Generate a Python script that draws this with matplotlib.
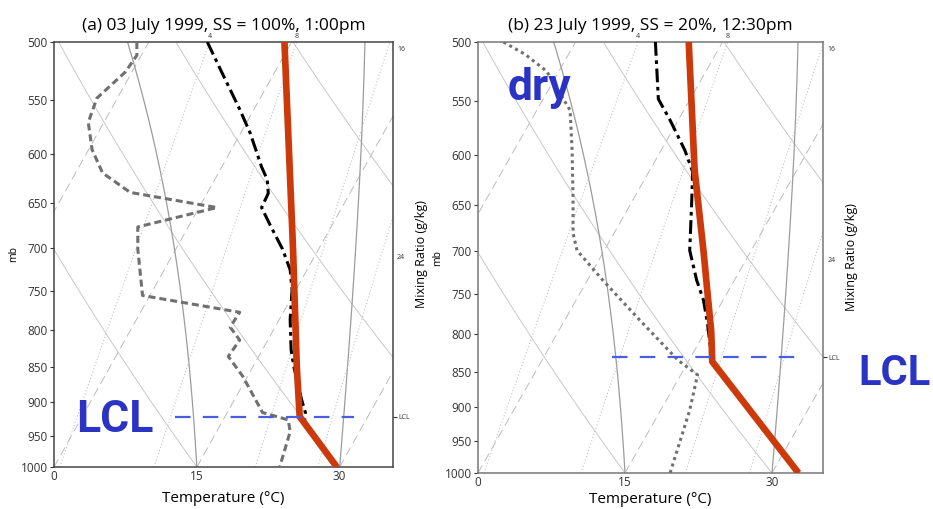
"""Skew-T soundings for two July 1999 afternoons (SS = 100% vs 20%)."""

import matplotlib.pyplot as plt
import matplotlib.transforms as mtransforms
import numpy as np
from matplotlib.ticker import NullLocator

plt.rcParams.update({"font.family": ["Open Sans", "DejaVu Sans"], "font.size": 8})

SKEW = 36.0  # degC of skew per ln(1000/p)
P_TICKS = [500, 550, 600, 650, 700, 750, 800, 850, 900, 950, 1000]
T_TICKS = [0, 15, 30]
ISOTHERMS = [-15, 0, 15, 30]
DRY_THETAS = [15, 30, 45, 60]
MOIST_THETAS = [15, 30]
MIX_TOP = [4, 8]
MIX_SIDE = [16, 24]
MIX_SIDE_P = [506, 710]  # where the side labels sit on the right spine

# values are positions on the skewed temperature axis
a_parcel_p = [500, 700, 850, 921, 1000]
a_parcel_x = [24.2, 25.1, 25.5, 25.8, 29.7]
a_temp_p = [500, 525, 558, 580, 613, 626, 640, 655, 674, 701, 725, 749, 786, 826,
            850, 896, 915, 930, 1000]
a_temp_x = [16.1, 17.6, 19.5, 20.6, 21.8, 22.4, 22.5, 21.8, 22.7, 24.0, 24.8, 25.0, 24.8,
            24.9, 25.2, 26.0, 26.4, 26.3, 29.7]
a_dew_p = [500, 511, 525, 548, 570, 596, 619, 639, 655, 676, 701, 756, 777, 796, 813,
           835, 862, 915, 926, 944, 1000]
a_dew_x = [8.7, 8.7, 7.5, 4.5, 3.6, 4.0, 5.1, 8.0, 17.1, 8.8, 8.8, 9.3, 19.5, 18.5, 19.5,
           18.3, 19.8, 21.9, 24.6, 24.8, 23.7]
a_lcl_p = 921
a_lcl_x = [12.7, 31.5]

b_parcel_p = [500, 614, 699, 797, 836, 1000]
b_parcel_x = [21.5, 22.1, 23.0, 23.8, 23.9, 32.7]
b_temp_p = [500, 548, 567, 595, 616, 648, 699, 733, 757, 785, 836, 1000]
b_temp_x = [18.1, 18.4, 19.6, 21.1, 21.9, 21.8, 21.6, 22.3, 23.0, 23.4, 23.9, 32.7]
b_dew_p = [500, 510, 524, 558, 595, 644, 680, 699, 733, 782, 834, 854, 904, 1000]
b_dew_x = [2.6, 4.8, 7.0, 9.4, 9.6, 9.7, 9.7, 10.1, 12.7, 16.5, 20.4, 22.4, 21.6, 19.6]
b_lcl_p = 830
b_lcl_x = [13.7, 32.9]

RED = "#cc3a0c"
BLUE = "#2b33c4"


def skew(t, p):
    return t + SKEW * np.log(1000.0 / p)


def dewpoint(w, p):
    e = w * p / (622.0 + w)
    a = np.log(e / 6.112)
    return 243.5 * a / (17.67 - a)


def moist_adiabat(t0, p):
    t = t0 + 273.15
    out = [t]
    for p1, p2 in zip(p[:-1], p[1:]):
        es = 6.112 * np.exp(17.67 * (t - 273.15) / (t - 29.65))
        rs = 0.622 * es / (p1 - es)
        dtdp = (287.0 * t + 2.5e6 * rs) / (1004.0 + 2.5e6 ** 2 * rs * 0.622 / (287.0 * t ** 2)) / p1
        t = t + dtdp * (p2 - p1)
        out.append(t)
    return np.array(out) - 273.15


def draw_panel(ax, xmax, title, parcel, temp, dew, lcl, dew_style, spine_color, xpad):
    p = np.linspace(1000, 490, 400)
    for t in ISOTHERMS:
        ax.plot(skew(np.full_like(p, t), p), p, color="#bcbcbc", lw=0.7,
                ls=(0, (9, 5)), zorder=1)
    for th in DRY_THETAS:
        t = (th + 273.15) * (p / 1000.0) ** 0.2857 - 273.15
        ax.plot(skew(t, p), p, color="#c8c8c8", lw=0.7, zorder=1)
    for tw in MOIST_THETAS:
        ax.plot(skew(moist_adiabat(tw, p), p), p, color="#9c9c9c", lw=0.9, zorder=1)
    for w in MIX_TOP + MIX_SIDE:
        ax.plot(skew(dewpoint(w, p), p), p, color="#c4c4c4", lw=0.8,
                ls=(0, (1, 2)), zorder=1)

    ax.plot(dew[1], dew[0], color="#707070", lw=2.2, ls=dew_style, zorder=3)
    ax.plot(temp[1], temp[0], color="black", lw=2.2, ls=(0, (4.5, 1.5, 1.2, 1.5)), zorder=4)
    ax.plot(parcel[1], parcel[0], color=RED, lw=4.8, solid_capstyle="butt", zorder=5)
    ax.plot(lcl[1], [lcl[0]] * 2, color="#4a5ee0", lw=1.6, ls=(0, (7, 5.5)), zorder=6)

    ax.set_yscale("log")
    ax.set_ylim(1000, 500)
    ax.set_xlim(0, xmax)
    ax.set_yticks(P_TICKS, labels=[str(v) for v in P_TICKS])
    ax.yaxis.set_minor_locator(NullLocator())
    ax.set_xticks(T_TICKS, labels=[str(v) for v in T_TICKS])
    ax.tick_params(axis="y", labelsize=8.5, length=3, pad=1.5, colors="#333333")
    ax.tick_params(axis="x", labelsize=8.5, length=0, pad=2, colors="#333333")
    for s in ax.spines.values():
        s.set_color(spine_color)
        s.set_linewidth(1.1)
    ax.set_ylabel("mb", fontsize=7.5, labelpad=1)
    ax.set_xlabel("Temperature (°C)", fontsize=11, labelpad=xpad)
    ax.set_title(title, fontsize=12.5, pad=9)

    top = mtransforms.blended_transform_factory(ax.transData, ax.transAxes)
    for w in MIX_TOP:
        ax.text(skew(dewpoint(w, 500.0), 500.0), 1.004, str(w), transform=top,
                ha="center", va="bottom", fontsize=5, color="#333333")
    side = mtransforms.blended_transform_factory(ax.transAxes, ax.transData)
    for w, pw in zip(MIX_SIDE, MIX_SIDE_P):
        ax.text(1.012, pw, str(w), transform=side, ha="left", va="center",
                fontsize=5, color="#333333")

    ax2 = ax.twinx()
    ax2.set_yscale("log")
    ax2.set_ylim(1000, 500)
    ax2.set_yticks([lcl[0]], labels=["LCL"])
    ax2.yaxis.set_minor_locator(NullLocator())
    ax2.tick_params(axis="y", labelsize=5, length=3, pad=1, colors="#333333")
    for s in ax2.spines.values():
        s.set_visible(False)
    ax2.set_ylabel("Mixing Ratio (g/kg)", fontsize=9)
    ax2.yaxis.set_label_coords(1.065, 0.5)


fig = plt.figure(figsize=(9.33, 5.09), dpi=100)
ax_a = fig.add_axes([54 / 933, 1 - 467 / 509, 339 / 933, 425 / 509])
ax_b = fig.add_axes([478 / 933, 1 - 473 / 509, 345 / 933, 431 / 509])

draw_panel(ax_a, 35.6, "(a) 03 July 1999, SS = 100%, 1:00pm",
           (a_parcel_p, a_parcel_x), (a_temp_p, a_temp_x), (a_dew_p, a_dew_x),
           (a_lcl_p, a_lcl_x), (0, (2.3, 1.3)), "#444444", 6)
draw_panel(ax_b, 35.2, "(b) 23 July 1999, SS = 20%, 12:30pm",
           (b_parcel_p, b_parcel_x), (b_temp_p, b_temp_x), (b_dew_p, b_dew_x),
           (b_lcl_p, b_lcl_x), (0, (1, 1.2)), "#777777", 2)

big = dict(color=BLUE, fontweight="bold", family=["Roboto", "DejaVu Sans"],
           va="baseline", ha="left")
fig.text(76 / 933, 1 - 432 / 509, "LCL", fontsize=32, **big)
fig.text(858 / 933, 1 - 385 / 509, "LCL", fontsize=30, **big)
fig.text(508 / 933, 1 - 100 / 509, "dry", fontsize=32, **big)

fig.savefig("out.png", dpi=100)
